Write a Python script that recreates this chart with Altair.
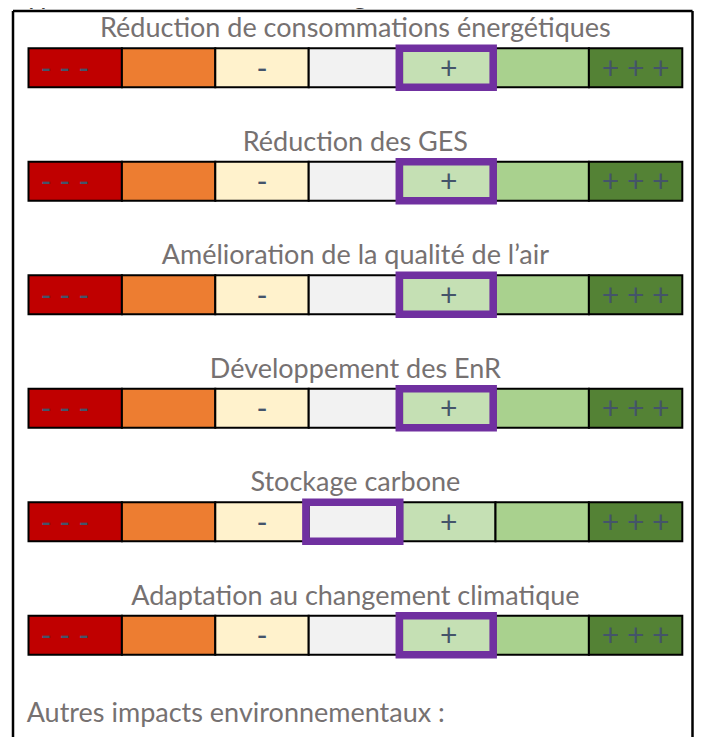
import altair as alt
import pandas as pd

# ---- data -------------------------------------------------------------
header = "Hypothèse : 450 nouveaux logements/an"
criteria = [
    "Réduction de consommations énergétiques",
    "Réduction des GES",
    "Amélioration de la qualité de l’air",
    "Développement des EnR",
    "Stockage carbone",
    "Adaptation au changement climatique",
]
selected_level = [4, 4, 4, 4, 3, 4]          # index of the highlighted level per criterion
level_labels = ["- - -", "", "-", "", "+", "", "+ + +"]
level_colors = ["#C00000", "#ED7D31", "#FFF2CC", "#F2F2F2", "#C5E0B4", "#A9D18E", "#548235"]
footer = "Autres impacts environnementaux :"

# ---- tables -----------------------------------------------------------
BAR_H = 0.3436      # bar height in row units
cells = []
for r, name in enumerate(criteria):
    for lv, (lab, col) in enumerate(zip(level_labels, level_colors)):
        cells.append({"row": r, "y2": r + BAR_H, "x": lv, "x2": lv + 1,
                      "xc": lv + 0.5 - (0.11 if lv == 0 else 0), "yc": r + BAR_H / 2,
                      "label": lab, "color": col, "crit": name})
cells = pd.DataFrame(cells)

sel = pd.DataFrame({"row": list(range(len(criteria))),
                    "lv": selected_level})
sel["x"] = sel["lv"] - 0.03
sel["x2"] = sel["lv"] + 0.975
sel["y2"] = sel["row"] + BAR_H

titles = pd.DataFrame({"row": [r - 0.097 for r in range(len(criteria))],
                       "x": [3.5] * len(criteria), "text": criteria})
foot = pd.DataFrame({"row": [5.936], "x": [-0.02], "text": [footer]})
head = pd.DataFrame({"row": [-0.39], "x": [-0.24], "text": [header]})

W, H = 686, 729
xs = alt.Scale(domain=[0, 7], range=[20.5, 674.3])
ys = alt.Scale(domain=[0, 5], range=[40.3, 607.8])

one = pd.DataFrame({"a": [0]})
frame_top = alt.Chart(one).mark_rule(color="black", strokeWidth=2.5).encode(
    x=alt.value(5), x2=alt.value(684.5), y=alt.value(3))
frame_left = alt.Chart(one).mark_rule(color="black", strokeWidth=2.5).encode(
    x=alt.value(5), y=alt.value(3), y2=alt.value(750))
frame_right = alt.Chart(one).mark_rule(color="black", strokeWidth=2.5).encode(
    x=alt.value(684.5), y=alt.value(3), y2=alt.value(750))

bars = alt.Chart(cells).mark_rect(stroke="black", strokeWidth=2).encode(
    x=alt.X("x:Q", scale=xs, axis=None),
    x2="x2:Q",
    y=alt.Y("row:Q", scale=ys, axis=None),
    y2="y2:Q",
    fill=alt.Color("color:N", scale=None),
)

labels = alt.Chart(cells).mark_text(
    font="Lato", fontSize=30, color="#44546A", baseline="middle", dy=2
).encode(x=alt.X("xc:Q", scale=xs), y=alt.Y("yc:Q", scale=ys), text="label:N")

boxes = alt.Chart(sel).mark_rect(fill=None, stroke="#7030A0", strokeWidth=7.5).encode(
    x=alt.X("x:Q", scale=xs), x2="x2:Q",
    y=alt.Y("row:Q", scale=ys), y2="y2:Q",
)

title_txt = alt.Chart(titles).mark_text(
    font="Lato", fontSize=27, color="#767171", baseline="alphabetic", align="center"
).encode(x=alt.X("x:Q", scale=xs), y=alt.Y("row:Q", scale=ys), text="text:N")

foot_txt = alt.Chart(foot).mark_text(
    font="Lato", fontSize=27, color="#767171", baseline="alphabetic", align="left"
).encode(x=alt.X("x:Q", scale=xs), y=alt.Y("row:Q", scale=ys), text="text:N")

head_txt = alt.Chart(head).mark_text(
    font="Lato", fontSize=27, color="#404040", baseline="alphabetic", align="left"
).encode(x=alt.X("x:Q", scale=xs), y=alt.Y("row:Q", scale=ys), text="text:N")

chart = alt.layer(frame_top, frame_left, frame_right, bars, labels, boxes,
                  title_txt, foot_txt, head_txt).properties(
    width=W, height=H, padding=0, autosize=alt.AutoSizeParams(type="none"),
    background="white",
).configure_view(stroke=None)

chart.save("out.html", embed_options={"renderer": "svg", "actions": False})
